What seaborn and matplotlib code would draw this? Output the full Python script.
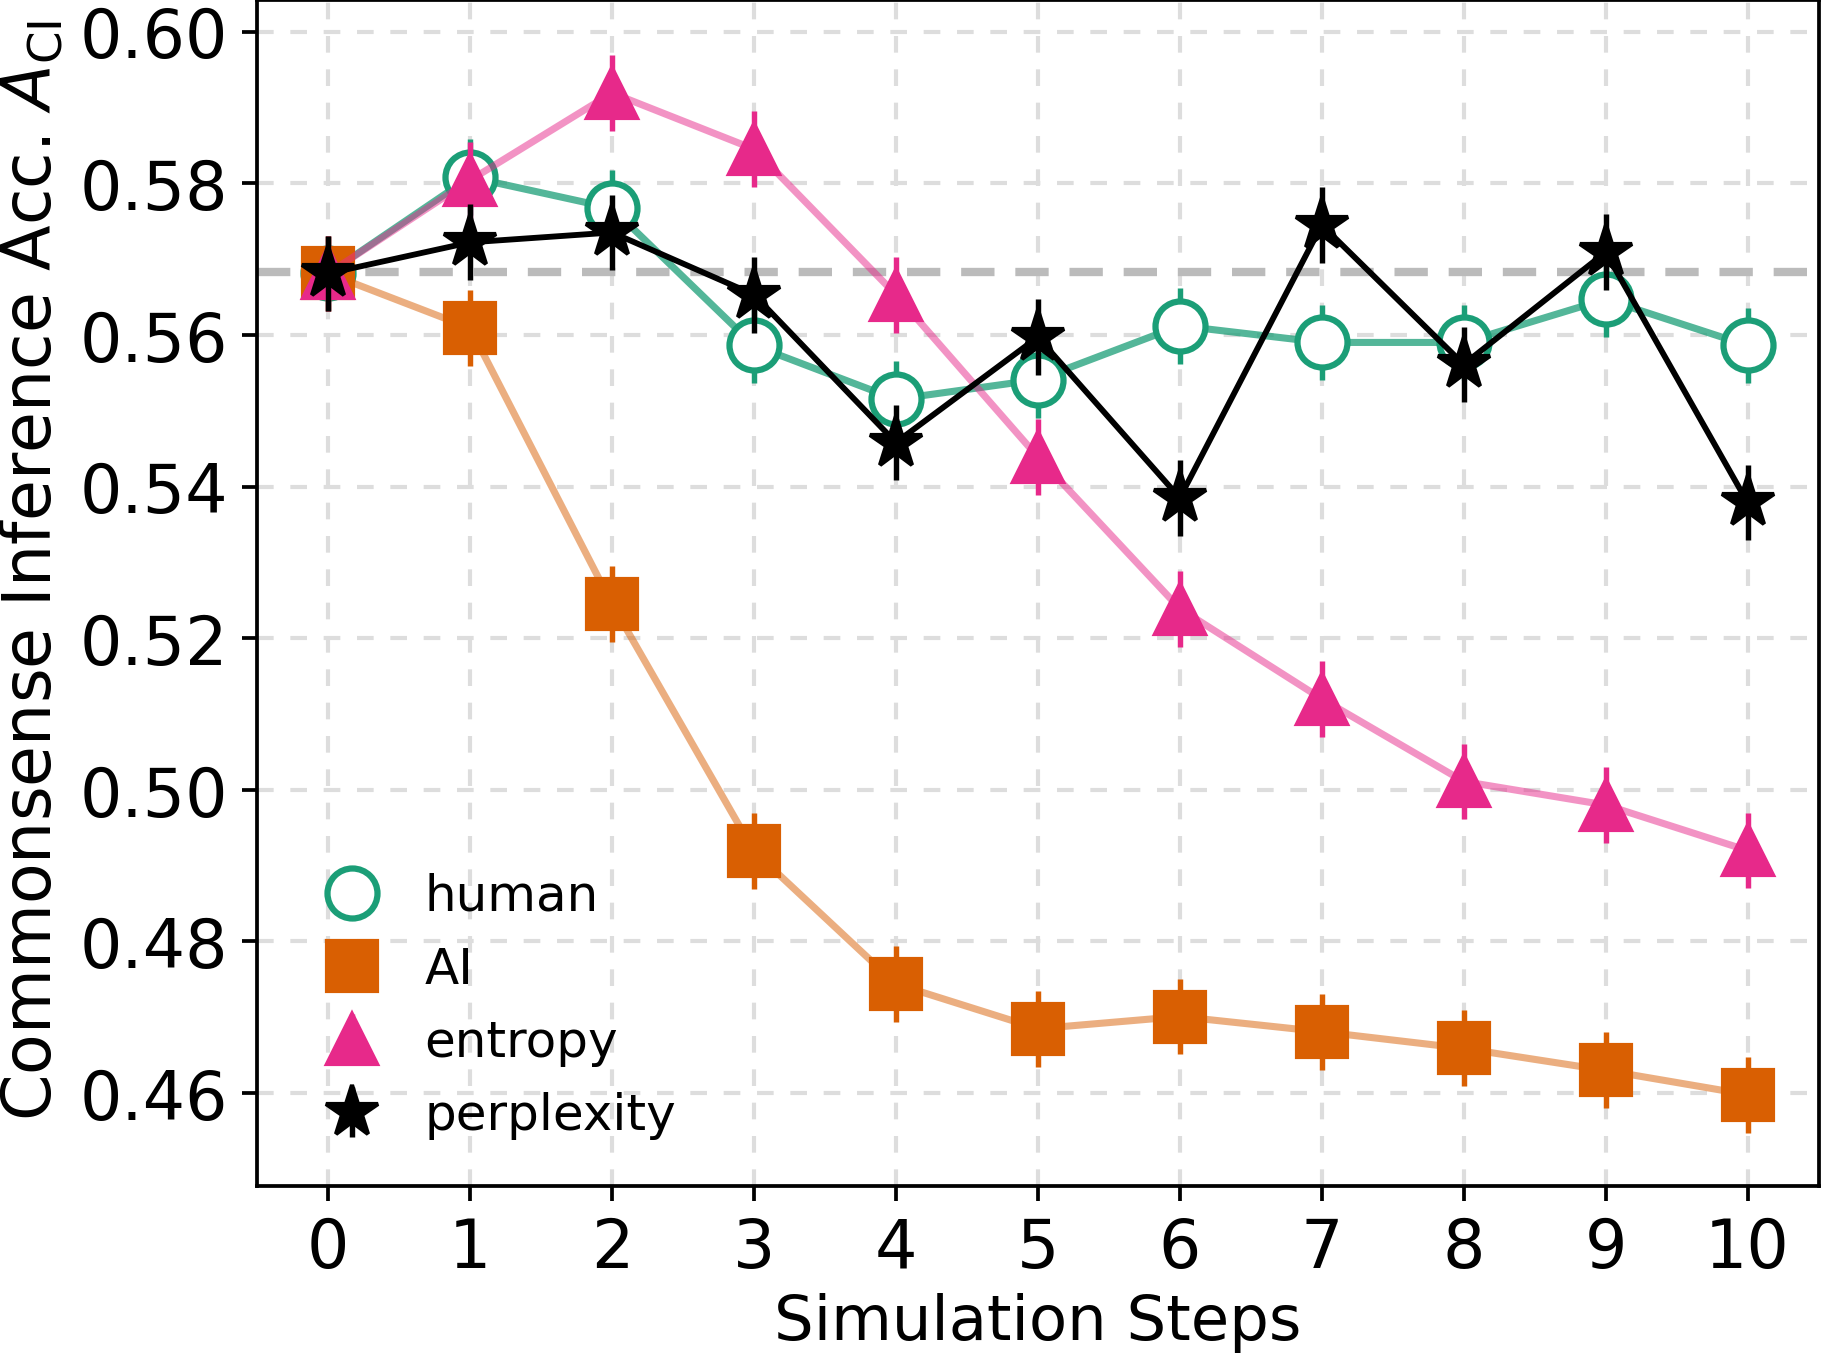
import matplotlib
matplotlib.use("Agg")
import matplotlib.pyplot as plt
import seaborn as sns
import pandas as pd

# values
steps = [0, 1, 2, 3, 4, 5, 6, 7, 8, 9, 10]
human = [0.5681, 0.5808, 0.5767, 0.5586, 0.5515, 0.5541, 0.5612, 0.5590, 0.5590, 0.5647, 0.5586]
ai = [0.5681, 0.5609, 0.5245, 0.4919, 0.4744, 0.4685, 0.4701, 0.4681, 0.4659, 0.4630, 0.4598]
entropy = [0.5681, 0.5804, 0.5919, 0.5845, 0.5653, 0.5439, 0.5239, 0.5120, 0.5011, 0.4980, 0.4920]
perplexity = [0.5681, 0.5722, 0.5735, 0.5653, 0.5458, 0.5597, 0.5385, 0.5745, 0.5561, 0.5709, 0.5379]
human_err = [0.005, 0.005, 0.005, 0.005, 0.005, 0.005, 0.005, 0.005, 0.005, 0.005, 0.005]
ai_err = [0.005, 0.005, 0.005, 0.005, 0.005, 0.005, 0.005, 0.005, 0.005, 0.005, 0.005]
entropy_err = [0.005, 0.005, 0.005, 0.005, 0.005, 0.005, 0.005, 0.005, 0.005, 0.005, 0.005]
perplexity_err = [0.005, 0.005, 0.005, 0.005, 0.005, 0.005, 0.005, 0.005, 0.005, 0.005, 0.005]
baseline = 0.5683

sns.set_style("ticks")
plt.rcParams["font.family"] = ["DejaVu Sans"]
plt.rcParams["text.color"] = "black"
plt.rcParams["axes.labelcolor"] = "black"
plt.rcParams["xtick.color"] = "black"
plt.rcParams["ytick.color"] = "black"

fig, ax = plt.subplots(figsize=(6.08, 4.523), dpi=300)
fig.subplots_adjust(left=0.141, right=0.997, top=0.999, bottom=0.125)

ax.grid(True, linestyle=(0, (4, 4)), color="#dddddd", linewidth=1.0)
ax.set_axisbelow(True)
ax.axhline(baseline, color="#bbbbbb", linestyle=(0, (4, 2.5)), linewidth=2.0, zorder=1)

series = [
    ("human", human, human_err, "#1b9e77", "o", 0.75, dict(mfc="white", mec="#1b9e77", mew=1.5)),
    ("AI", ai, ai_err, "#d95f02", "s", 0.5, dict(mfc="#d95f02", mec="#d95f02")),
    ("entropy", entropy, entropy_err, "#e7298a", "^", 0.5, dict(mfc="#e7298a", mec="#e7298a")),
    ("perplexity", perplexity, perplexity_err, "black", "*", 1.0, dict(mfc="black", mec="black")),
]

for i, (name, vals, errs, color, marker, alpha, mstyle) in enumerate(series):
    df = pd.DataFrame({"step": steps, "acc": vals})
    sns.lineplot(data=df, x="step", y="acc", color=color, alpha=alpha,
                 linewidth=1.7 if name != "perplexity" else 1.4, ax=ax, zorder=2 + 2 * i)
    ax.errorbar(steps, vals, yerr=errs, fmt=marker, color=color, ecolor=color,
                elinewidth=1.3, capsize=0, markersize=12 if marker != "*" else 13,
                label=name, zorder=3 + 2 * i, **mstyle)

ax.set_xlim(-0.5, 10.5)
ax.set_ylim(0.4477, 0.6041)
ax.set_xticks(steps)
ax.set_yticks([0.46, 0.48, 0.50, 0.52, 0.54, 0.56, 0.58, 0.60])
ax.tick_params(axis="both", labelsize=16, length=3.5, width=0.9)
for s in ax.spines.values():
    s.set_color("black")
    s.set_linewidth(0.9)

ax.set_xlabel("Simulation Steps", fontsize=15, labelpad=2.5)
ax.set_ylabel(r"Commonsense Inference Acc. $A_{\mathrm{CI}}$", fontsize=16, labelpad=4)
ax.yaxis.set_label_coords(-0.123, 0.52)

ax.legend(loc="lower left", frameon=False, fontsize=12, handletextpad=0.45,
          labelspacing=0.5, bbox_to_anchor=(0.0, 0.002))

fig.savefig("out.png", dpi=300)
